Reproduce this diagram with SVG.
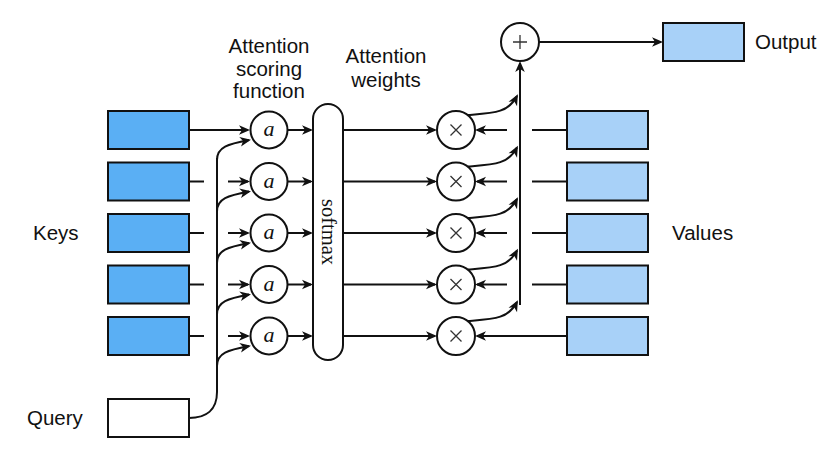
<svg xmlns="http://www.w3.org/2000/svg" width="826" height="453" viewBox="0 0 826 453">
<style>
.key{fill:#5aaff4;stroke:#111;stroke-width:2}
.val{fill:#a8d1f8;stroke:#111;stroke-width:2}
.qry{fill:#fff;stroke:#111;stroke-width:2}
.op{fill:#fff;stroke:#111;stroke-width:2}
.ln{fill:none;stroke:#111;stroke-width:2}
.arr{fill:none;stroke:#111;stroke-width:2;marker-end:url(#ah)}
.sym{stroke:#333;stroke-width:1.3;fill:none}
.lbl{font-family:"Liberation Sans",Arial,sans-serif;font-size:20.5px;fill:#111}
.ai{font-family:"Liberation Serif","Times New Roman",serif;font-style:italic;font-size:22px;fill:#111}
.sm{font-family:"Liberation Serif","Times New Roman",serif;font-size:20.5px;fill:#111}
</style>
<defs>
<marker id="ah" viewBox="-10 -6 13 12" refX="0" refY="0" markerWidth="13" markerHeight="12" markerUnits="userSpaceOnUse" orient="auto">
<path d="M2,0 L-9,-4.8 L-6,0 L-9,4.8 Z" fill="#111"/>
</marker>
</defs>
<rect width="826" height="453" fill="#fff"/>

<g id="labels">
<text class="lbl" x="269" y="53" text-anchor="middle">Attention</text>
<text class="lbl" x="269" y="76" text-anchor="middle">scoring</text>
<text class="lbl" x="269" y="98" text-anchor="middle">function</text>
<text class="lbl" x="386" y="63" text-anchor="middle">Attention</text>
<text class="lbl" x="386" y="87" text-anchor="middle">weights</text>
<text class="lbl" x="33" y="240">Keys</text>
<text class="lbl" x="27" y="425">Query</text>
<text class="lbl" x="672" y="240">Values</text>
<text class="lbl" x="755" y="49">Output</text>
</g>

<g id="connectors">
<!-- keys to scoring -->
<path class="arr" d="M189,130 L248,130"/>
<path class="ln" d="M189,181.5 L204,181.5"/><path class="arr" d="M228,181.5 L248,181.5"/>
<path class="ln" d="M189,233 L204,233"/><path class="arr" d="M228,233 L248,233"/>
<path class="ln" d="M189,284.5 L204,284.5"/><path class="arr" d="M228,284.5 L248,284.5"/>
<path class="ln" d="M189,336 L204,336"/><path class="arr" d="M228,336 L248,336"/>
<!-- query trunk and branches -->
<path class="ln" d="M189,418 C206,418 217,410 217,392 L217,158"/>
<path class="arr" d="M217,160 C217,147 228,144 249,140"/>
<path class="arr" d="M217,211.5 C217,198.5 228,195.5 249,191.5"/>
<path class="arr" d="M217,263 C217,250 228,247 249,243"/>
<path class="arr" d="M217,314.5 C217,301.5 228,298.5 249,294.5"/>
<path class="arr" d="M217,366 C217,353 228,350 249,346"/>
<!-- scoring to softmax -->
<path class="arr" d="M288,130 L311,130"/>
<path class="arr" d="M288,181.5 L311,181.5"/>
<path class="arr" d="M288,233 L311,233"/>
<path class="arr" d="M288,284.5 L311,284.5"/>
<path class="arr" d="M288,336 L311,336"/>
<!-- softmax to multiply -->
<path class="arr" d="M343,130 L435,130"/>
<path class="arr" d="M343,181.5 L435,181.5"/>
<path class="arr" d="M343,233 L435,233"/>
<path class="arr" d="M343,284.5 L435,284.5"/>
<path class="arr" d="M343,336 L435,336"/>
<!-- values to multiply -->
<path class="ln" d="M567,130 L532,130"/><path class="arr" d="M507,130 L477,130"/>
<path class="ln" d="M567,181.5 L532,181.5"/><path class="arr" d="M507,181.5 L477,181.5"/>
<path class="ln" d="M567,233 L532,233"/><path class="arr" d="M507,233 L477,233"/>
<path class="ln" d="M567,284.5 L532,284.5"/><path class="arr" d="M507,284.5 L477,284.5"/>
<path class="arr" d="M567,336 L477,336"/>
<!-- multiply to sum -->
<path class="arr" d="M468,115 C494,113 508,113 517,96"/>
<path class="arr" d="M468,166.5 C494,164.5 508,164.5 517,147.5"/>
<path class="arr" d="M468,218 C494,216 508,216 517,199"/>
<path class="arr" d="M468,269.5 C494,267.5 508,267.5 517,250.5"/>
<path class="arr" d="M468,321 C494,319 508,319 517,302"/>
<path class="arr" d="M520,305 L520,63"/>
<!-- sum to output -->
<path class="arr" d="M539,42 L661,42"/>
</g>

<g id="keys">
<rect class="key" x="108" y="111" width="81" height="38"/>
<rect class="key" x="108" y="162.5" width="81" height="38"/>
<rect class="key" x="108" y="214" width="81" height="38"/>
<rect class="key" x="108" y="265.5" width="81" height="38"/>
<rect class="key" x="108" y="317" width="81" height="38"/>
</g>
<g id="query"><rect class="qry" x="108" y="399" width="81" height="38"/></g>

<g id="scoring">
<circle class="op" cx="269" cy="130" r="18.5"/><text class="ai" x="269" y="136" text-anchor="middle">a</text>
<circle class="op" cx="269" cy="181.5" r="18.5"/><text class="ai" x="269" y="187.5" text-anchor="middle">a</text>
<circle class="op" cx="269" cy="233" r="18.5"/><text class="ai" x="269" y="239" text-anchor="middle">a</text>
<circle class="op" cx="269" cy="284.5" r="18.5"/><text class="ai" x="269" y="290.5" text-anchor="middle">a</text>
<circle class="op" cx="269" cy="336" r="18.5"/><text class="ai" x="269" y="342" text-anchor="middle">a</text>
</g>

<g id="softmax">
<rect class="op" x="313" y="104" width="30" height="256" rx="15" ry="15"/>
<text class="sm" transform="translate(322,232) rotate(90)" text-anchor="middle">softmax</text>
</g>

<g id="multiply">
<circle class="op" cx="456" cy="130" r="19"/><path class="sym" d="M450.5,124.5 L461.5,135.5 M461.5,124.5 L450.5,135.5"/>
<circle class="op" cx="456" cy="181.5" r="19"/><path class="sym" d="M450.5,176 L461.5,187 M461.5,176 L450.5,187"/>
<circle class="op" cx="456" cy="233" r="19"/><path class="sym" d="M450.5,227.5 L461.5,238.5 M461.5,227.5 L450.5,238.5"/>
<circle class="op" cx="456" cy="284.5" r="19"/><path class="sym" d="M450.5,279 L461.5,290 M461.5,279 L450.5,290"/>
<circle class="op" cx="456" cy="336" r="19"/><path class="sym" d="M450.5,330.5 L461.5,341.5 M461.5,330.5 L450.5,341.5"/>
</g>

<g id="values">
<rect class="val" x="567" y="111" width="81" height="38"/>
<rect class="val" x="567" y="162.5" width="81" height="38"/>
<rect class="val" x="567" y="214" width="81" height="38"/>
<rect class="val" x="567" y="265.5" width="81" height="38"/>
<rect class="val" x="567" y="317" width="81" height="38"/>
</g>

<g id="sum">
<circle class="op" cx="520" cy="42" r="19"/>
<path class="sym" d="M520,35 L520,49 M513,42 L527,42"/>
</g>

<g id="output"><rect class="val" x="663" y="23" width="81" height="38"/></g>
</svg>
